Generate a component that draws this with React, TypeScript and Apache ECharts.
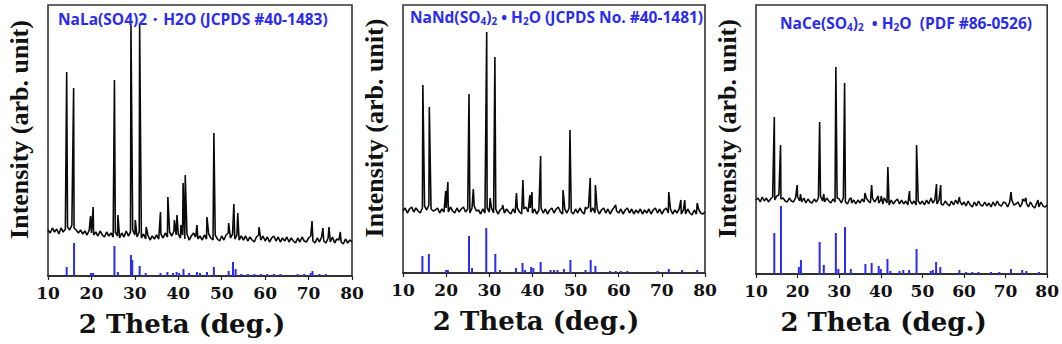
import React, { useEffect, useRef } from "react";
import * as echarts from "echarts";

// ---------- data ----------
const panelTitles = [
  "NaLa(SO4)2・H2O (JCPDS #40-1483)",
  "NaNd(SO{s|4}){s|2} • H{s|2}O (JCPDS No. #40-1481)",
  "NaCe(SO{s|4}){s|2}  • H{s|2}O  (PDF #86-0526)",
];
const xTitle = "2 Theta (deg.)";
const yTitle = "Intensity (arb. unit)";

// measured background, 10° .. 80° every 0.5°
const baseLa = [
  46, 43, 48, 44, 47, 42, 48, 44, 47, 49,
  46, 51, 48, 46, 43, 46, 42, 45, 41, 46,
  43, 41, 44, 40, 45, 41, 39, 44, 40, 43,
  39, 44, 40, 38, 43, 39, 45, 40, 44, 46,
  41, 39, 44, 38, 42, 37, 41, 36, 40, 37,
  41, 37, 42, 38, 43, 39, 44, 40, 45, 41,
  42, 38, 41, 37, 42, 36, 40, 43, 39, 37,
  40, 36, 41, 37, 42, 38, 36, 41, 37, 35,
  40, 36, 41, 43, 38, 42, 37, 41, 36, 40,
  36, 40, 35, 39, 36, 34, 39, 41, 36, 40,
  35, 39, 34, 38, 40, 35, 39, 34, 38, 35,
  39, 34, 38, 35, 33, 38, 34, 39, 35, 34,
  38, 40, 35, 33, 38, 34, 39, 35, 33, 38,
  34, 39, 33, 37, 36, 34, 32, 37, 33, 36,
  34,
];
const baseNd = [
  62, 65, 60, 64, 66, 61, 65, 62, 60, 65,
  67, 63, 68, 64, 62, 63, 65, 60, 64, 61,
  65, 61, 66, 62, 60, 65, 61, 64, 66, 61,
  64, 60, 65, 67, 62, 63, 59, 64, 60, 65,
  61, 65, 60, 64, 59, 63, 65, 60, 64, 61,
  59, 64, 60, 65, 61, 59, 64, 66, 61, 65,
  60, 64, 59, 63, 65, 60, 64, 59, 63, 65,
  60, 64, 66, 61, 59, 64, 60, 65, 61, 59,
  64, 60, 65, 61, 59, 64, 66, 61, 65, 60,
  64, 59, 63, 65, 60, 64, 59, 63, 66, 62,
  60, 64, 59, 63, 65, 60, 64, 59, 63, 60,
  64, 59, 63, 60, 64, 59, 63, 65, 60, 64,
  59, 63, 65, 60, 64, 59, 63, 60, 64, 59,
  63, 59, 64, 60, 58, 63, 59, 64, 60, 59,
  61,
];
const baseCe = [
  74, 76, 72, 77, 73, 76, 72, 75, 77, 74,
  78, 79, 75, 76, 73, 72, 76, 73, 72, 76,
  77, 73, 72, 76, 71, 75, 72, 71, 75, 72,
  76, 78, 73, 72, 76, 73, 71, 75, 72, 76,
  75, 71, 76, 72, 70, 75, 71, 74, 70, 74,
  71, 75, 72, 76, 73, 71, 76, 72, 75, 71,
  74, 70, 75, 71, 69, 74, 70, 73, 75, 70,
  74, 70, 73, 69, 74, 70, 73, 69, 73, 70,
  73, 69, 74, 70, 75, 71, 74, 70, 74, 70,
  69, 73, 70, 68, 73, 69, 74, 70, 73, 69,
  72, 68, 73, 69, 67, 72, 68, 73, 69, 68,
  72, 68, 71, 67, 72, 68, 73, 69, 68, 72,
  71, 67, 72, 74, 69, 70, 72, 67, 71, 73,
  71, 67, 72, 68, 66, 71, 67, 72, 68, 67,
  69,
];

// measured peaks [2θ, apex]
const peaksLa = [
  [14.3, 204], [15.9, 188], [19.8, 60], [20.4, 69], [25.3, 196], [26.1, 61],
  [29.1, 251], [30.1, 56], [31.1, 252], [32.6, 49], [35.9, 64], [37.6, 79],
  [39.1, 56], [39.7, 61], [40.6, 51], [41.1, 93], [41.6, 101], [44.3, 51],
  [46.6, 59], [48.2, 143], [51.6, 53], [52.8, 72], [53.7, 63], [58.6, 49],
  [70.8, 55], [73.3, 48], [74.7, 49], [77.3, 44],
];
const peaksNd = [
  [14.6, 188], [16.1, 166], [19.9, 82], [20.4, 91], [25.3, 179], [26.3, 84],
  [29.4, 241], [30.2, 75], [31.3, 216], [33.1, 68], [36.3, 80], [37.8, 93],
  [39.4, 78], [39.9, 81], [41.9, 117], [47.1, 83], [48.7, 143], [52.3, 66],
  [53.4, 95], [54.6, 88], [59.3, 68], [71.6, 81], [74.4, 73], [75.3, 73],
  [78.2, 70],
];
const peaksCe = [
  [14.4, 157], [15.9, 129], [19.9, 89], [20.7, 80], [25.3, 152], [26.3, 80],
  [29.2, 207], [31.3, 191], [32.9, 76], [36.2, 81], [37.8, 89], [39.4, 78],
  [40.1, 78], [40.8, 76], [41.7, 107], [46.9, 83], [48.6, 129], [52.1, 76],
  [53.4, 90], [54.4, 89], [58.9, 77], [68.1, 73], [71.3, 82], [74.1, 75],
  [74.9, 76], [77.8, 74],
];

// reference card lines [2θ, intensity]
const refLa = [
  [14.3, 9], [16.0, 33], [19.9, 3], [20.4, 3], [25.3, 30], [26.1, 4], [29.1, 21],
  [29.4, 16], [31.1, 10], [32.5, 3], [35.9, 3], [37.5, 4], [38.8, 3], [39.6, 4],
  [40.2, 3], [41.2, 7], [42.5, 3], [44.3, 4], [45.0, 3], [46.6, 4], [48.2, 9],
  [51.6, 5], [52.6, 14], [53.2, 7], [54.5, 2], [56.0, 2], [57.5, 2], [59.0, 2],
  [60.5, 2], [62.0, 2], [63.5, 2], [67.5, 2], [69.0, 2], [70.5, 3], [70.9, 5],
  [72.5, 2], [74.0, 2],
];
const refNd = [
  [14.5, 17], [16.0, 19], [20.0, 3], [20.4, 3], [25.3, 37], [26.0, 5], [29.3, 45],
  [31.4, 19], [32.5, 3], [36.2, 5], [37.7, 10], [38.3, 3], [39.7, 6], [40.2, 5],
  [41.9, 11], [44.2, 3], [45.0, 3], [45.8, 3], [47.3, 4], [48.8, 13], [52.3, 3],
  [53.5, 13], [54.6, 7], [58.0, 2], [59.3, 2], [60.5, 2], [62.0, 2], [69.0, 2],
  [71.6, 4], [74.7, 3], [78.2, 3],
];
const refCe = [
  [14.4, 41], [16.0, 68], [20.3, 7], [20.8, 14], [25.3, 32], [26.3, 9], [29.2, 41],
  [29.8, 5], [31.4, 47], [32.8, 5], [36.3, 10], [37.8, 11], [39.5, 8], [40.0, 5],
  [41.6, 15], [42.3, 3], [44.5, 3], [45.4, 4], [46.8, 4], [48.6, 25], [52.0, 3],
  [52.5, 4], [53.3, 12], [54.3, 7], [58.9, 4], [60.5, 2], [62.0, 2], [63.5, 2],
  [66.5, 2], [68.5, 2], [71.3, 5], [74.0, 4], [75.0, 3], [78.0, 2],
];

const X_MIN = 10;
const X_MAX = 80;
const X_STEP = 10;
const BASE_START = 10;
const BASE_STEP = 0.5;

function buildPattern(base: number[], peaks: number[][]) {
  const pts = base.map((v, i) => [BASE_START + i * BASE_STEP, v]);
  return pts.concat(peaks.map((p) => [p[0], p[1]])).sort((a, b) => a[0] - b[0]);
}

const panels = [
  { base: baseLa, peaks: peaksLa, ref: refLa, grid: { left: 48, top: 5, width: 304, height: 271 }, ymax: 271, title: { left: 58, top: 9 } },
  { base: baseNd, peaks: peaksNd, ref: refNd, grid: { left: 403, top: 5, width: 302, height: 268 }, ymax: 268, title: { left: 410, top: 7 } },
  { base: baseCe, peaks: peaksCe, ref: refCe, grid: { left: 756, top: 5, width: 295, height: 269 }, ymax: 269, title: { left: 780, top: 13 } },
];

const BLUE = "#2b2bf0";
const SERIF = "'Liberation Serif', 'Times New Roman', serif";
const WIDE_SERIF = "'DejaVu Serif', 'Liberation Serif', serif";

export default function App() {
  const ref = useRef<HTMLDivElement>(null);
  useEffect(() => {
    if (!ref.current) return;
    const chart = echarts.init(ref.current, undefined, { renderer: "svg" });
    const option: any = {
      animation: false,
      backgroundColor: "#ffffff",
      title: panels.map((p, i) => ({
        text: panelTitles[i],
        left: p.title.left,
        top: p.title.top,
        padding: 0,
        z: 10,
        textStyle: {
          fontFamily: "'Open Sans', 'Noto Sans', sans-serif",
          fontWeight: "bold",
          fontSize: 15.5,
          lineHeight: 19,
          color: BLUE,
          rich: {
            s: { fontFamily: "'Open Sans', sans-serif", fontWeight: "bold", fontSize: 10, lineHeight: 11, verticalAlign: "bottom", color: BLUE },
          },
        },
      })),
      grid: panels.map((p) => ({
        ...p.grid,
        show: true,
        borderColor: "#333",
        borderWidth: 1.6,
        backgroundColor: "transparent",
      })),
      xAxis: panels.map((p, i) => ({
        type: "value",
        gridIndex: i,
        min: X_MIN,
        max: X_MAX,
        interval: X_STEP,
        name: xTitle,
        nameLocation: "middle",
        nameGap: 35,
        nameTextStyle: {
          fontFamily: WIDE_SERIF,
          fontWeight: "bold",
          fontSize: 26,
          color: "#111",
          padding: [0, 36, 0, 0],
        },
        axisLine: { show: true, lineStyle: { color: "#222", width: 1.6 } },
        axisTick: { show: true, inside: false, length: 4, lineStyle: { color: "#222", width: 1.2 } },
        axisLabel: {
          fontFamily: WIDE_SERIF,
          fontWeight: "bold",
          fontSize: 17,
          color: "#111",
          margin: 8,
        },
        splitLine: { show: false },
      })),
      yAxis: panels.map((p, i) => ({
        type: "value",
        gridIndex: i,
        min: 0,
        max: p.ymax,
        name: yTitle,
        nameLocation: "middle",
        nameRotate: 90,
        nameGap: 16,
        nameTextStyle: {
          fontFamily: SERIF,
          fontWeight: "bold",
          fontSize: 26,
          color: "#111",
          padding: [0, 0, 0, 22],
        },
        axisLine: { show: false },
        axisTick: { show: false },
        axisLabel: { show: false },
        splitLine: { show: false },
      })),
      series: panels.flatMap((p, i) => [
        {
          type: "line",
          xAxisIndex: i,
          yAxisIndex: i,
          data: buildPattern(p.base, p.peaks),
          showSymbol: false,
          symbol: "none",
          lineStyle: { color: "#0a0a0a", width: 1.6 },
          z: 3,
        },
        {
          type: "bar",
          xAxisIndex: i,
          yAxisIndex: i,
          data: p.ref,
          barWidth: 2,
          itemStyle: { color: BLUE },
          z: 2,
        },
      ]),
    };
    chart.setOption(option);
    return () => chart.dispose();
  }, []);
  return (
    <div
      ref={ref}
      style={{ position: "fixed", left: 0, top: 0, width: 1062, height: 344, background: "#fff" }}
    />
  );
}
